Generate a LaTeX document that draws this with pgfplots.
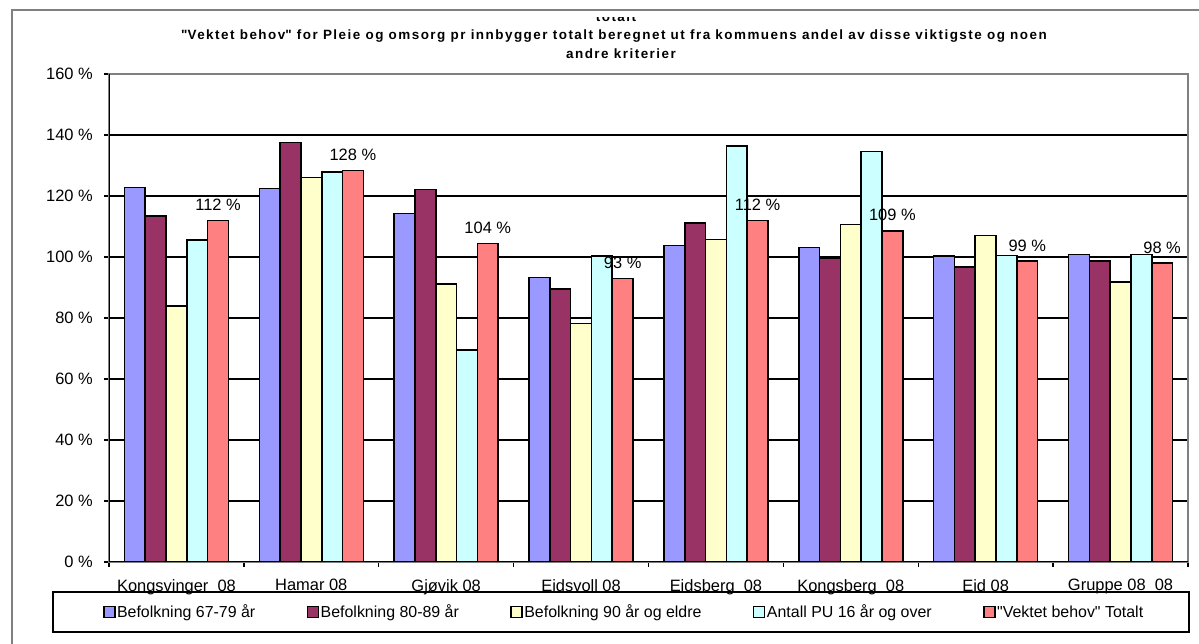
\documentclass[border=0pt]{standalone}
\usepackage{fontspec}
\setmainfont{Liberation Sans}
\usepackage{pgfplots}
\usepackage{pgfplotstable}
\pgfplotsset{compat=1.18}

\definecolor{cBlue}{HTML}{9999FF}
\definecolor{cPlum}{HTML}{993366}
\definecolor{cCream}{HTML}{FFFFCC}
\definecolor{cAqua}{HTML}{CCFFFF}
\definecolor{cSalmon}{HTML}{FF8080}
\definecolor{frameGray}{HTML}{808080}

\newcommand{\titlefont}{\bfseries\fontsize{13.5}{15}\selectfont\addfontfeature{LetterSpace=11}}

% Index relative to the national average (100 %), per municipality
\pgfplotstableread{
idx b6779 b8089 b90 pu16 vektet
0 122.8 113.5 83.9 105.6 111.9
1 122.5 137.5 126.1 127.9 128.3
2 114.3 122.1 91.1 69.5 104.4
3 93.3 89.5 78.2 100.4 92.9
4 103.8 111.1 105.7 136.3 112.0
5 103.1 99.7 110.7 134.6 108.6
6 100.4 96.8 107.1 100.5 98.6
7 100.8 98.6 91.8 100.8 98.0
}\behov

\begin{document}
\begin{tikzpicture}[x=1bp,y=1bp]
\useasboundingbox (0,0) rectangle (1199,644);
\clip (0,0) rectangle (1199,644);
% outer chart frame
\draw[frameGray, line width=2bp] (12,634) rectangle (1240,-40);
% title
\begin{scope}
  \clip (0,0) rectangle (1199,626.5);
  \node[anchor=base, font=\titlefont] at (616,622.3) {totalt};
\end{scope}
\node[font=\titlefont] at (614,608) {\textquotedbl Vektet behov\textquotedbl\ for Pleie og omsorg pr innbygger totalt beregnet ut fra kommuens andel av disse viktigste og noen};
\node[font=\titlefont] at (621,590) {andre kriterier};
% legend frame
\draw[black, line width=1.5bp] (53,52) rectangle (1189,12);

\begin{axis}[
  at={(109bp,82bp)}, anchor=south west,
  scale only axis, width=1079bp, height=488bp,
  xmin=-0.5, xmax=7.5, ymin=0, ymax=160,
  ybar=0pt, bar width=20.8bp,
  every axis plot/.append style={
    draw=black, line width=1.6bp,
    legend image code/.code={\draw[##1, line width=1.4bp] (0bp,-5.5bp) rectangle (11bp,5.5bp);}
  },
  axis line style={frameGray, line width=1.2bp},
  ymajorgrids, major grid style={black, line width=1.3bp},
  tick align=outside, major tick length=5bp,
  tick style={black, line width=1.3bp},
  xtick pos=bottom, ytick pos=left,
  ytick={0,20,...,160},
  yticklabel={\pgfmathprintnumber{\tick}~\%},
  /pgf/number format/assume math mode=true,
  yticklabel style={font=\fontsize{16.5}{19}\selectfont, inner sep=0pt, xshift=-11bp},
  xtick={-0.5,0.5,...,7.5},
  xticklabels={},
  extra x ticks={0,1,...,7},
  extra x tick labels={Kongsvinger\ \ 08, Hamar 08, Gjøvik 08, Eidsvoll 08, Eidsberg\ \ 08, Kongsberg\ \ 08, Eid 08, Gruppe 08\ \ 08},
  extra x tick style={grid=none, major tick length=0pt,
    xticklabel style={font=\fontsize{16.5}{19}\selectfont, inner sep=0pt, yshift=-17bp}},
  legend columns=5,
  legend style={
    at={(axis description cs:-0.0056,-0.1025)}, anchor=west,
    draw=none, fill=none, inner sep=0pt,
    font=\fontsize{16}{19}\selectfont,
    /tikz/every even column/.append style={column sep=50bp},
    nodes={inner sep=1.5bp}
  },
]
\addplot[fill=cBlue] table[x=idx, y=b6779] {\behov};
\addlegendentry{Befolkning 67-79 år}
\addplot[fill=cPlum] table[x=idx, y=b8089] {\behov};
\addlegendentry{Befolkning 80-89 år}
\addplot[fill=cCream] table[x=idx, y=b90] {\behov};
\addlegendentry{Befolkning 90 år og eldre}
\addplot[fill=cAqua] table[x=idx, y=pu16] {\behov};
\addlegendentry{Antall PU 16 år og over}
\addplot[fill=cSalmon,
  nodes near coords={\pgfmathprintnumber[fixed,precision=0]{\pgfplotspointmeta}~\%},
  nodes near coords style={font=\fontsize{16.5}{19}\selectfont, anchor=south, inner sep=0pt, yshift=9bp, text=black},
] table[x=idx, y=vektet] {\behov};
\addlegendentry{\textquotedbl Vektet behov\textquotedbl\ Totalt}
\draw[black, line width=2bp] (rel axis cs:0,1) -- (rel axis cs:0,0) -- (rel axis cs:1,0);
\end{axis}
\end{tikzpicture}
\end{document}
